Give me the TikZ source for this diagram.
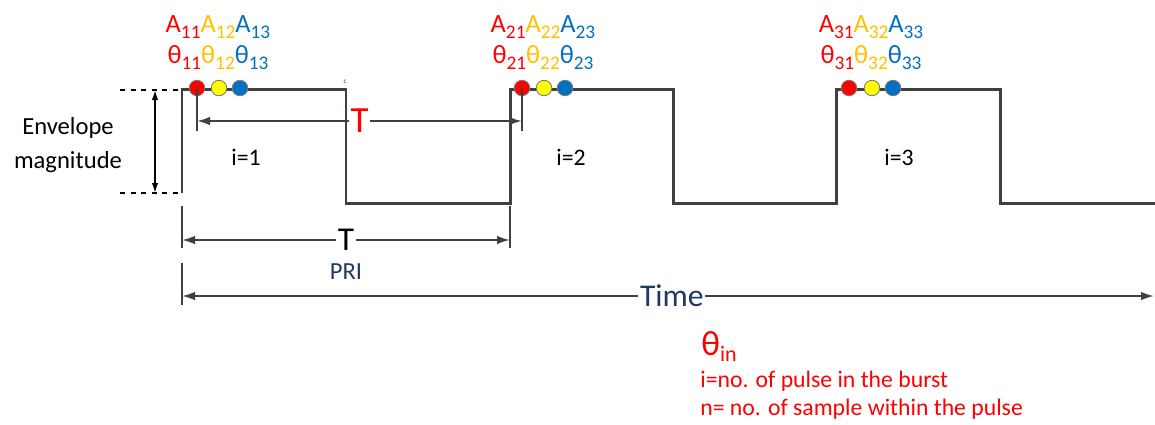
\documentclass[tikz,border=0pt]{standalone}
\usepackage{fontspec}
\setmainfont{Carlito}
\usetikzlibrary{arrows.meta,positioning}

\definecolor{pred}{HTML}{FF0000}
\definecolor{pgold}{HTML}{FFC000}
\definecolor{pblue}{HTML}{0070C0}
\definecolor{pyellow}{HTML}{FFFF00}
\definecolor{pnavy}{HTML}{1F3864}
\definecolor{wavegray}{HTML}{404040}

\newcommand{\lowidx}[1]{\raisebox{-0.5ex}{\fontsize{11}{11}\selectfont #1}}

\begin{document}
\begin{tikzpicture}[
  x=0.02cm, y=-0.02cm,
  >={Latex[length=2.6mm,width=1.7mm]},
  wave/.style={draw=wavegray, line width=1.7pt, line join=miter},
  dimline/.style={draw=wavegray, line width=1.1pt},
  sample/.style={circle, draw=wavegray!70, line width=0.5pt, minimum size=3.1mm, inner sep=0pt},
  coef/.style={font=\fontsize{15}{16}\selectfont, inner sep=0pt, anchor=base},
  idx/.style={font=\fontsize{13.5}{16}\selectfont, inner sep=1pt},
  note/.style={text=pred, font=\fontsize{13.5}{15}\selectfont, anchor=base west, inner sep=0pt}
]
\useasboundingbox (0,0) rectangle (1155,424);

% pulse train
\draw[wave] (182,193) -- (182,89) -- (346,89) -- (346,203) -- (510,203) -- (510,89)
  -- (673,89) -- (673,203) -- (836,203) -- (836,89) -- (1000,89) -- (1000,203) -- (1155,203);
\node[inner sep=0pt, text=wavegray, font=\fontsize{4}{4}\selectfont] (mark) at (345,82) {c};

% samples of each pulse
\foreach \xa/\xb/\xc/\n in {197/219/240/1, 522/544/565/2, 849/872/893/3} {
  \node[sample, fill=pred] (c\n1) at (\xa,88) {};
  \node[sample, fill=pyellow] (c\n2) at (\xb,88) {};
  \node[sample, fill=pblue] (c\n3) at (\xc,88) {};
  \node[coef] (amp\n) at (\xb-1,32)
    {{\color{pred}A\lowidx{\n1}}{\color{pgold}A\lowidx{\n2}}{\color{pblue}A\lowidx{\n3}}};
  \node[coef] (phase\n) at (\xb-1,63)
    {{\color{pred}θ\lowidx{\n1}}{\color{pgold}θ\lowidx{\n2}}{\color{pblue}θ\lowidx{\n3}}};
  \node[idx] (pulse\n) at (\xb+27,157) {i=\n};
}

% envelope magnitude
\draw[dashed, line width=0.9pt] (120,90) -- (178,90);
\draw[dashed, line width=0.9pt] (120,193) -- (178,193);
\draw[line width=0.9pt, {Latex[length=2mm,width=1.3mm]}-{Latex[length=2mm,width=1.3mm]}] (155,90) -- (155,193);
\node[align=center, font=\fontsize{14}{19}\selectfont] (env) at (68,145) {Envelope\\magnitude};

% sample spacing T
\coordinate (redL) at (197,121);
\coordinate (redR) at (522,121);
\draw[dimline] (c11.center) -- (197,131);
\draw[dimline] (c21.center) -- (522,131);
\draw[dimline, <->] (redL) -- (redR)
  node[midway, fill=white, inner sep=1pt, text=pred, font=\fontsize{21}{22}\selectfont] (tred) {T};

% PRI
\draw[dimline] (182,206) -- (182,248);
\draw[dimline] (510,206) -- (510,248);
\draw[dimline, <->] (182,240) -- (510,240)
  node[midway, fill=white, inner sep=1pt, font=\fontsize{19}{20}\selectfont] (tblack) {T};
\node[text=pnavy, font=\fontsize{14}{15}\selectfont] (pri) at (346,272) {PRI};

% time axis
\draw[dimline] (182,263) -- (182,305);
\draw[dimline, <->] (182,296) -- (1154,296)
  node[pos=0.504, fill=white, inner sep=1pt, text=pnavy, font=\fontsize{18}{20}\selectfont] (time) {Time};

% legend
\node[note, font=\fontsize{20}{22}\selectfont] (theta) at (701,355) {θ\raisebox{-0.4ex}{\fontsize{12.5}{12}\selectfont in}};
\node[note] (legi) at (700,387) {i=no. of pulse in the burst};
\node[note] (legn) at (700,415) {n= no. of sample within the pulse};
\end{tikzpicture}
\end{document}
